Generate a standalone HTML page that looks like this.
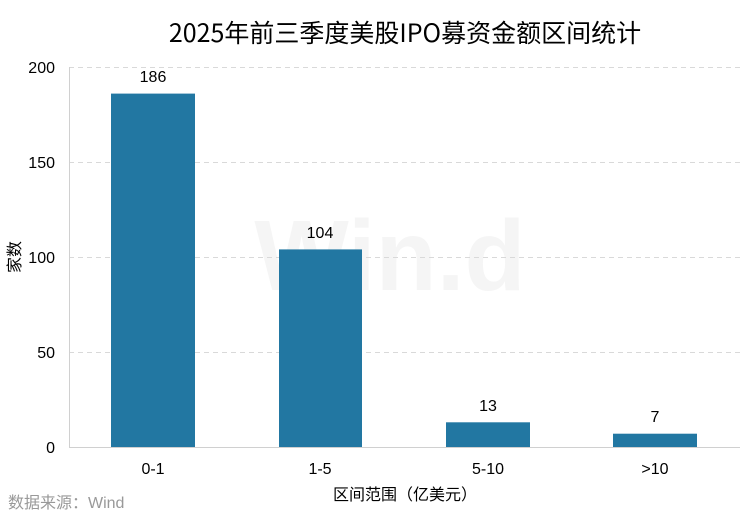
<!DOCTYPE html>
<html><head><meta charset="utf-8"><style>
body{margin:0;background:#fff;}
svg{display:block;font-family:"Liberation Sans","Noto Sans CJK SC",sans-serif;}
</style></head><body>
<svg width="750" height="520" viewBox="0 0 750 520">
<rect width="750" height="520" fill="#fff"/>
<text x="390" y="290" font-size="100" fill="#f5f5f5" text-anchor="middle" font-weight="bold">Win.d</text>
<text x="405" y="42" font-size="25" text-anchor="middle" fill="#000" font-family="'Noto Sans CJK SC',sans-serif">2025年前三季度美股IPO募资金额区间统计</text>
<g stroke="#d9d9d9" stroke-dasharray="5,4" stroke-width="1">
<line x1="69" y1="67.5" x2="740" y2="67.5"/>
<line x1="69" y1="162.5" x2="740" y2="162.5"/>
<line x1="69" y1="257.5" x2="740" y2="257.5"/>
<line x1="69" y1="352.5" x2="740" y2="352.5"/>
</g>
<line x1="69.5" y1="67" x2="69.5" y2="447" stroke="#d0d0d0"/>
<line x1="69" y1="447.5" x2="740" y2="447.5" stroke="#d0d0d0"/>
<g fill="#2277a2">
<rect x="111" y="93.6" width="84" height="353.4"/>
<rect x="279" y="249.4" width="83" height="197.6"/>
<rect x="446" y="422.3" width="84" height="24.7"/>
<rect x="613" y="433.7" width="84" height="13.3"/>
</g>
<g font-size="16" fill="#000" text-anchor="end">
<text x="55" y="73">200</text>
<text x="55" y="168">150</text>
<text x="55" y="263">100</text>
<text x="55" y="358">50</text>
<text x="55" y="453">0</text>
</g>
<g font-size="16" fill="#000" text-anchor="middle">
<text x="153" y="82">186</text>
<text x="320" y="238">104</text>
<text x="488" y="411">13</text>
<text x="655" y="422">7</text>
<text x="153" y="474">0-1</text>
<text x="320" y="474">1-5</text>
<text x="488" y="474">5-10</text>
<text x="655" y="474">&gt;10</text>
<text x="405" y="500">区间范围（亿美元）</text>
</g>
<text transform="translate(20,257) rotate(-90)" font-size="16" text-anchor="middle" fill="#000">家数</text>
<text x="8" y="508" font-size="16" fill="#999">数据来源：Wind</text>
</svg>
</body></html>
